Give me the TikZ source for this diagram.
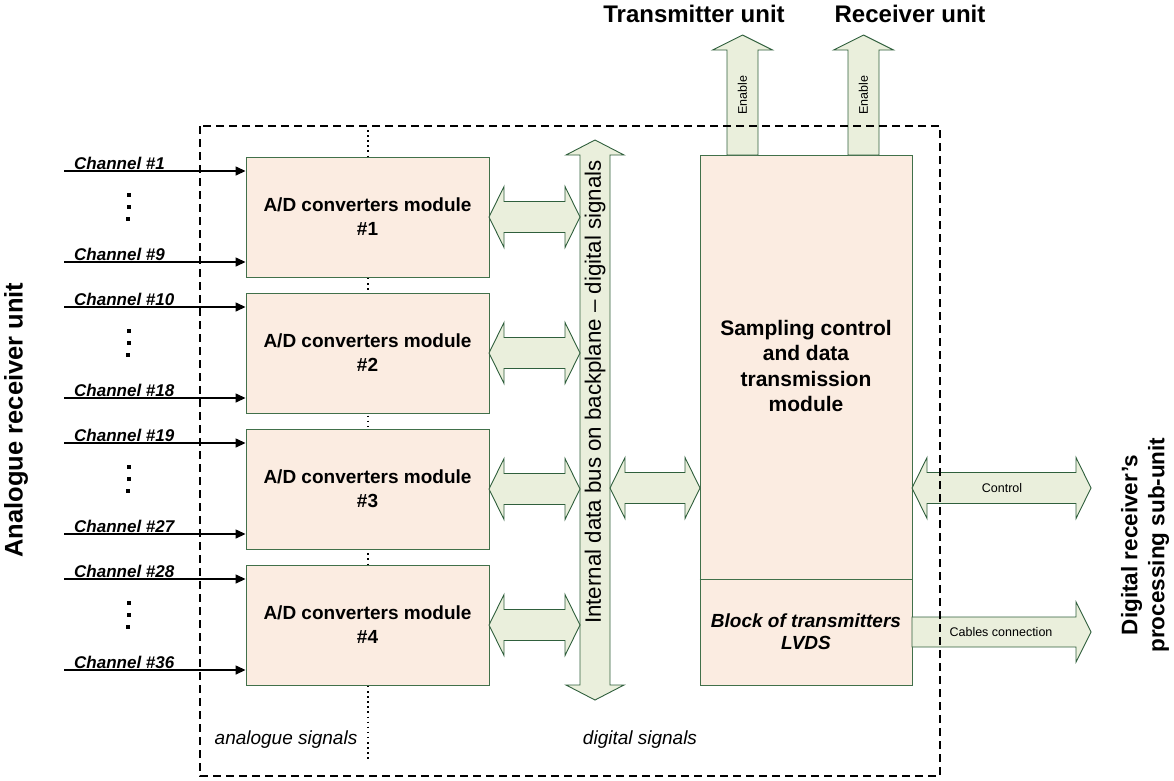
\documentclass[tikz,border=0pt]{standalone}
\usepackage{fontspec}
\setmainfont{Liberation Sans}
\usetikzlibrary{calc,arrows.meta}
\definecolor{modfill}{HTML}{FBECE1}
\definecolor{modline}{HTML}{41704A}
\definecolor{arrfill}{HTML}{EAEFDC}
\definecolor{arrline}{HTML}{2F5F3C}
\tikzset{
  fat/.style={draw=arrline, fill=arrfill, line width=0.9pt, line join=miter},
  adbox/.style={draw=modline, fill=modfill, line width=0.9pt, minimum width=243pt, minimum height=120pt, align=center, inner sep=0pt,
    font=\fontsize{19}{24}\selectfont\bfseries},
  chan/.style={line width=1.4pt, -{Triangle[length=10pt,width=9pt]}},
  chanlbl/.style={anchor=base west, inner sep=0pt, font=\fontsize{17}{20}\selectfont\bfseries\itshape},
  small/.style={font=\fontsize{12.5}{15}\selectfont, inner sep=0pt},
  dotsq/.style={fill=black, minimum size=4pt, inner sep=0pt},
}
% horizontal double fat arrow: x1, x2, y
\newcommand\fatHH[3]{%
  \draw[fat] (#1,#3) -- (#1+15,#3-30.5) -- (#1+15,#3-15.5) -- (#2-15,#3-15.5) -- (#2-15,#3-30.5) -- (#2,#3)
   -- (#2-15,#3+30.5) -- (#2-15,#3+15.5) -- (#1+15,#3+15.5) -- (#1+15,#3+30.5) -- cycle;}
\begin{document}
\begin{tikzpicture}[x=1pt,y=-1pt]
\useasboundingbox (0,0) rectangle (1174,780);
% dotted separator
\draw[line width=1.5pt, dash pattern=on 1.5pt off 3.6pt] (368,130) -- (368,762);
% A/D modules
\node[adbox] (m1) at (367.5,217) {A/D converters module\\\#1};
\node[adbox] (m2) at (367.5,353) {A/D converters module\\\#2};
\node[adbox] (m3) at (367.5,489) {A/D converters module\\\#3};
\node[adbox] (m4) at (367.5,625) {A/D converters module\\\#4};
% channels
\foreach \m/\a/\b/\t in {m1/1/9/157, m2/10/18/293, m3/19/27/429, m4/28/36/565}{
  \coordinate (s\m a) at (64,\t+14);
  \coordinate (s\m b) at (64,\t+105);
  \draw[chan] (s\m a) -- (s\m a -| \m.west);
  \draw[chan] (s\m b) -- (s\m b -| \m.west);
  \node[chanlbl] at (74,\t+12) {Channel \#\a};
  \node[chanlbl] at (74,\t+103) {Channel \#\b};
  \node[dotsq] at (129,\t+38) {};
  \node[dotsq] at (128.5,\t+50) {};
  \node[dotsq] at (128,\t+62) {};
}
% bus
\draw[fat] (595,140) -- (624,155) -- (610,155) -- (610,685) -- (624,685) -- (595,700) -- (566,685) -- (580,685) -- (580,155) -- (566,155) -- cycle;
\node[rotate=90, font=\fontsize{22.3}{26}\selectfont, inner sep=0pt] (bus) at (595,392) {Internal data bus on backplane – digital signals};
% module to bus arrows
\fatHH{489}{580}{217}
\fatHH{489}{580}{353}
\fatHH{489}{580}{489}
\fatHH{489}{580}{625}
% big module
\node[draw=modline, fill=modfill, line width=0.9pt, minimum width=212pt, minimum height=530pt, inner sep=0pt] (big) at (806,420) {};
\draw[draw=modline, line width=0.9pt] (big.west |- 0,579) -- (big.east |- 0,579);
\node[align=center, font=\fontsize{21}{25.5}\selectfont\bfseries, inner sep=0pt] at (806,366) {Sampling control\\and data\\transmission\\module};
\node[align=center, font=\fontsize{19}{22}\selectfont\bfseries\itshape, inner sep=0pt] at (806,632) {Block of transmitters\\LVDS};
% bus to big
\fatHH{610}{700}{488}
% control
\fatHH{912}{1091}{488}
\node[small] at (1002,488) {Control};
% cables
\draw[fat] (912,617) -- (1076,617) -- (1076,602) -- (1091,632) -- (1076,662) -- (1076,647) -- (912,647) -- cycle;
\node[small] at (1001,632) {Cables connection};
% enable arrows
\foreach \cx in {742.5, 863.5}{
  \draw[fat] (\cx,35) -- (\cx+30,50) -- (\cx+15.5,50) -- (\cx+15.5,155) -- (\cx-15.5,155) -- (\cx-15.5,50) -- (\cx-30,50) -- cycle;
  \node[small, rotate=90] at (\cx,95) {Enable};
}
% titles
\node[font=\fontsize{24}{28}\selectfont\bfseries, inner sep=0pt] (tx) at (694,14) {Transmitter unit};
\node[font=\fontsize{24}{28}\selectfont\bfseries, inner sep=0pt] (rx) at (910,14) {Receiver unit};
% side labels
\node[rotate=90, font=\fontsize{25.5}{29}\selectfont\bfseries, inner sep=0pt] (al) at (16,420) {Analogue receiver unit};
\node[rotate=90, align=center, font=\fontsize{22.5}{27}\selectfont\bfseries, inner sep=0pt] (dl) at (1145,545) {Digital receiver’s\\processing sub-unit};
% signals labels
\node[font=\fontsize{19}{22}\selectfont\itshape, inner sep=0pt] at (286,740) {analogue signals};
\node[font=\fontsize{19}{22}\selectfont\itshape, inner sep=0pt] at (640,740) {digital signals};
% dashed enclosure
\draw[line width=2pt, dash pattern=on 8pt off 5pt] (200,126) rectangle (940,776);
\end{tikzpicture}
\end{document}
